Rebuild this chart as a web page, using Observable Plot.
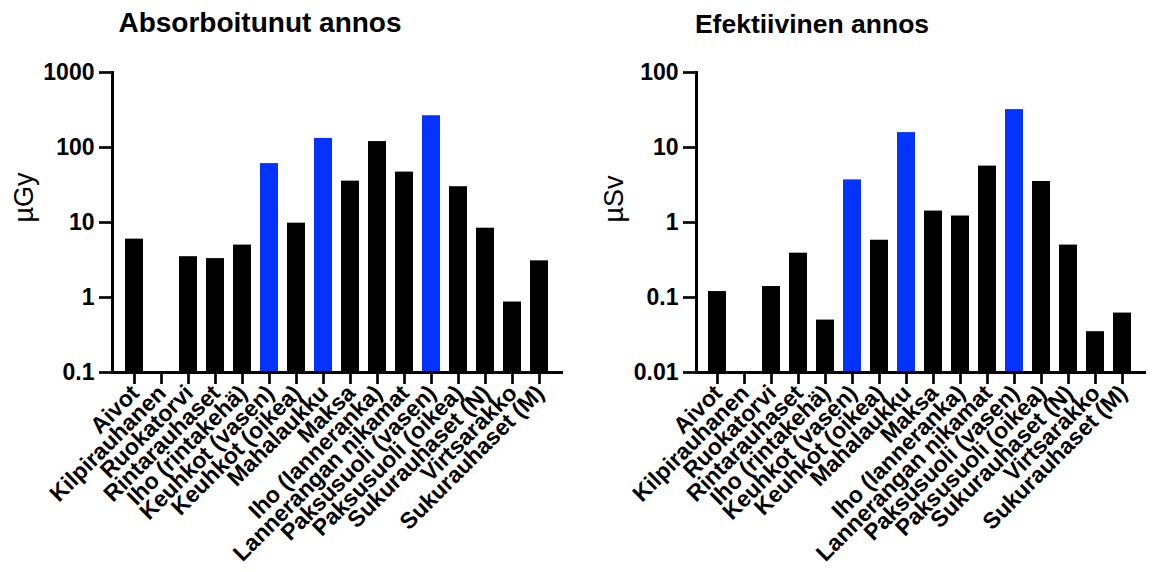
<!DOCTYPE html>
<html>
<head>
<meta charset="utf-8">
<script src="https://cdn.jsdelivr.net/npm/d3@7"></script>
<script src="https://cdn.jsdelivr.net/npm/@observablehq/plot@0.6"></script>
<style>
  body { margin: 0; background: #fff; font-family: "Liberation Sans", Arial, sans-serif; }
  #wrap { position: relative; width: 1155px; height: 572px; overflow: hidden; }
  .title { position: absolute; top: 9px; transform: translateX(-50%); font-size: 28px; line-height: 28px; font-weight: bold; white-space: nowrap; color: #000; }
  .panel { position: absolute; top: 50px; }
  .panel svg { overflow: visible; }
</style>
</head>
<body>
<div id="wrap">
  <div class="title" style="left:260px">Absorboitunut annos</div>
  <div class="title" style="left:812px;font-size:26.5px;top:10px">Efektiivinen annos</div>
  <div class="panel" id="left" style="left:0px"></div>
  <div class="panel" id="right" style="left:578px"></div>
</div>
<script>
const categories = ["Aivot","Kilpirauhanen","Ruokatorvi","Rintarauhaset","Iho (rintakehä)","Keuhkot (vasen)","Keuhkot (oikea)","Mahalaukku","Maksa","Iho (lanneranka)","Lannerangan nikamat","Paksusuoli (vasen)","Paksusuoli (oikea)","Sukurauhaset (N)","Virtsarakko","Sukurauhaset (M)"];
const absorbed = [6.0, null, 3.5, 3.3, 5.0, 61, 9.8, 132, 35.6, 120, 47, 265, 30, 8.4, 0.87, 3.08];
const effective = [0.12, null, 0.14, 0.39, 0.05, 3.7, 0.58, 15.8, 1.42, 1.22, 5.65, 32, 3.52, 0.5, 0.035, 0.062];
const highlighted = ["Keuhkot (vasen)", "Mahalaukku", "Paksusuoli (vasen)"];
const absorbedTicks = [0.1, 1, 10, 100, 1000];
const absorbedTickLabels = ["0.1", "1", "10", "100", "1000"];
const effectiveTicks = [0.01, 0.1, 1, 10, 100];
const effectiveTickLabels = ["0.01", "0.1", "1", "10", "100"];
const unitAbsorbed = "µGy";
const unitEffective = "µSv";

function panel(values, ticks, tickLabels, unit, opts) {
  const data = categories.map((c, i) => ({cat: c, v: values[i], hi: highlighted.includes(c)}))
    .filter(d => d.v != null);
  const lo = ticks[0];
  return Plot.plot({
    width: opts.width,
    height: 522,
    marginLeft: opts.marginLeft,
    marginRight: opts.marginRight,
    marginTop: 22,
    marginBottom: 200,
    style: {fontFamily: "'Liberation Sans', Arial, sans-serif", color: "#000", background: "transparent", overflow: "visible"},
    x: {type: "band", domain: categories, padding: 0.33, label: null},
    y: {type: "log", domain: [ticks[0], ticks[ticks.length - 1]], label: null},
    color: {domain: [false, true], range: ["#000000", "#0433FF"]},
    marks: [
      Plot.barY(data, {x: "cat", y1: lo, y2: "v", fill: "hi"}),
      Plot.frame({anchor: "left", stroke: "#000", strokeWidth: 3}),
      Plot.frame({anchor: "bottom", stroke: "#000", strokeWidth: 3}),
      Plot.axisY({ticks: ticks, tickFormat: (d) => tickLabels[ticks.indexOf(d)], tickSize: 13, tickPadding: 5, strokeWidth: 2.7, fontSize: 23, fontWeight: "bold", label: null}),
      Plot.axisX({tickSize: 12, strokeWidth: 2.7, tickFormat: () => "", label: null}),
      Plot.text(categories, {x: (d) => d, frameAnchor: "bottom", rotate: -45, textAnchor: "end", lineAnchor: "bottom", dx: 6, dy: 22, fontSize: 23, fontWeight: "bold", fill: "#000"}),
      Plot.text([unit], {frameAnchor: "left", dx: opts.labelDx, rotate: -90, fontSize: 27, fill: "#000"})
    ]
  });
}

document.getElementById("left").appendChild(panel(absorbed, absorbedTicks, absorbedTickLabels, unitAbsorbed, {width: 578, marginLeft: 112, marginRight: 17, labelDx: -88}));
document.getElementById("right").appendChild(panel(effective, effectiveTicks, effectiveTickLabels, unitEffective, {width: 577, marginLeft: 118, marginRight: 11, labelDx: -82}));
</script>
</body>
</html>
